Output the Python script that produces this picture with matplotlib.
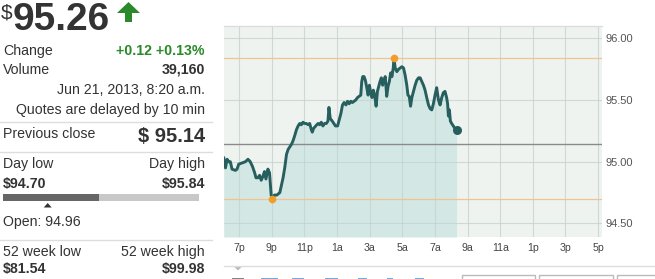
import matplotlib
matplotlib.use("Agg")
import matplotlib.pyplot as plt
from matplotlib.patches import Polygon, Rectangle
import numpy as np

plt.rcParams['font.family'] = ['Liberation Sans', 'DejaVu Sans']

# ---------------- data ----------------
last_price = 95.26
change_text = "+0.12 +0.13%"
volume_text = "39,160"
quote_time = "Jun 21, 2013, 8:20 a.m."
delay_note = "Quotes are delayed by 10 min"
prev_close = 95.14
day_low = 94.70
day_high = 95.84
open_price = 94.96
week52_low = 81.54
week52_high = 99.98

# hours since midnight Jun 20 (values > 24 are on Jun 21)
hours = [18.07, 18.17, 18.27, 18.37, 18.47, 18.57, 18.78, 18.88, 18.98, 19.18,
         19.39, 19.55, 19.69, 19.83, 19.96, 20.04, 20.16, 20.26, 20.36, 20.46,
         20.56, 20.65, 20.77, 20.87, 20.97, 21.05, 21.17, 21.32,
         21.50, 21.60, 21.70, 21.80, 21.91, 22.01, 22.11, 22.21, 22.31, 22.41,
         22.52, 22.62, 22.72, 22.82, 22.92, 23.02, 23.13, 23.23, 23.33, 23.43,
         23.49, 23.57, 23.70, 23.84, 23.94, 24.04, 24.14, 24.24, 24.35, 24.45,
         24.51, 24.59, 24.71, 24.81, 24.91,
         25.04, 25.14, 25.24, 25.34, 25.44, 25.55, 25.65, 25.75, 25.85, 25.95,
         26.05, 26.15, 26.26, 26.36, 26.46, 26.52, 26.58, 26.66, 26.74, 26.83,
         26.91, 26.99, 27.07, 27.15, 27.23, 27.31, 27.40, 27.48, 27.56, 27.64,
         27.72, 27.80, 27.88, 27.96, 28.05, 28.13, 28.21, 28.29, 28.37, 28.45,
         28.49,
         28.57, 28.67, 28.78, 28.88, 28.98, 29.08, 29.18, 29.28, 29.35, 29.43,
         29.51, 29.59, 29.69, 29.79, 29.89, 30.00, 30.10, 30.20, 30.30, 30.40,
         30.50, 30.61, 30.71, 30.81, 30.91, 31.01, 31.11, 31.22, 31.32, 31.42,
         31.52, 31.62, 31.72, 31.78, 31.83, 31.89, 31.95, 32.03, 32.13, 32.23,
         32.33]
prices = [95.03, 94.95, 95.02, 95.00, 95.00, 94.94, 94.93, 94.94, 94.98, 94.99,
          95.00, 95.02, 95.00, 94.96, 94.91, 94.87, 94.87, 94.89, 94.85, 94.88,
          94.92, 94.86, 94.94, 94.91, 94.73, 94.70, 94.73, 94.73,
          94.75, 94.81, 94.87, 94.95, 95.06, 95.10, 95.12, 95.14, 95.17, 95.21,
          95.26, 95.29, 95.31, 95.30, 95.32, 95.31, 95.31, 95.30, 95.31, 95.26,
          95.24, 95.27, 95.29, 95.31, 95.30, 95.32, 95.29, 95.31, 95.31, 95.33,
          95.44, 95.35, 95.33, 95.31, 95.29,
          95.29, 95.34, 95.39, 95.46, 95.48, 95.46, 95.49, 95.47, 95.49, 95.48,
          95.49, 95.50, 95.52, 95.53, 95.54, 95.65, 95.69, 95.69, 95.66, 95.60,
          95.54, 95.62, 95.56, 95.52, 95.58, 95.54, 95.45, 95.57, 95.61, 95.65,
          95.68, 95.62, 95.66, 95.69, 95.53, 95.61, 95.65, 95.72, 95.69, 95.76,
          95.84,
          95.76, 95.73, 95.75, 95.76, 95.77, 95.76, 95.70, 95.62, 95.54, 95.53,
          95.45, 95.52, 95.57, 95.62, 95.66, 95.68, 95.68, 95.65, 95.62, 95.58,
          95.52, 95.46, 95.43, 95.42, 95.47, 95.54, 95.60, 95.50, 95.46, 95.52,
          95.56, 95.57, 95.52, 95.47, 95.37, 95.42, 95.33, 95.31, 95.29, 95.27,
          95.26]

x_ticks = [19, 21, 23, 25, 27, 29, 31, 33, 35, 37, 39, 41]
x_labels = ["7p", "9p", "11p", "1a", "3a", "5a", "7a", "9a", "11a", "1p", "3p", "5p"]
y_ticks = [94.5, 95.0, 95.5, 96.0]
y_labels = ["94.50", "95.00", "95.50", "96.00"]

# ---------------- figure ----------------
W, H = 655, 279
fig = plt.figure(figsize=(W / 100, H / 100), dpi=100)
fig.patch.set_facecolor("white")

# overlay in pixel coordinates
ov = fig.add_axes([0, 0, 1, 1])
ov.set_xlim(0, W)
ov.set_ylim(H, 0)
ov.axis("off")

dark = "#333333"
green = "#2a8a2a"

ov.text(0.5, 19, "$", fontsize=15, color=dark, va="baseline", ha="left")
ov.text(13, 29.5, f"{last_price:.2f}", fontsize=28, fontweight="bold", color=dark,
        va="baseline", ha="left")
ov.add_patch(Polygon([[117, 13], [140, 13], [128.5, 2]], closed=True, color=green, lw=0))
ov.add_patch(Rectangle((125, 12), 7, 10, color=green, lw=0))

fs = 10.2
ov.text(3, 51, "Change", fontsize=fs, color=dark, va="center")
ov.text(205, 51, change_text, fontsize=fs, color=green, fontweight="bold",
        va="center", ha="right")
ov.text(3, 70, "Volume", fontsize=fs, color=dark, va="center")
ov.text(205, 70, volume_text, fontsize=fs, color=dark, fontweight="bold",
        va="center", ha="right")
ov.text(205, 90, quote_time, fontsize=fs, color=dark, va="center", ha="right")
ov.text(205, 110, delay_note, fontsize=fs, color=dark, va="center", ha="right")
ov.plot([0, 212], [122, 122], color="#dddddd", lw=1)
ov.text(3, 134, "Previous close", fontsize=fs, color=dark, va="center")
ov.text(205, 136.5, f"$ {prev_close:.2f}", fontsize=14.5, color=dark, fontweight="bold",
        va="center", ha="right")
ov.plot([0, 212], [151.5, 151.5], color="#dddddd", lw=1)
ov.text(3, 164, "Day low", fontsize=fs, color=dark, va="center")
ov.text(205, 164, "Day high", fontsize=fs, color=dark, va="center", ha="right")
ov.text(3, 184, f"${day_low:.2f}", fontsize=fs, color=dark, fontweight="bold", va="center")
ov.text(205, 184, f"${day_high:.2f}", fontsize=fs, color=dark, fontweight="bold",
        va="center", ha="right")
bar_l, bar_r = 3, 199
frac_cur = (last_price - day_low) / (day_high - day_low)
frac_open = (open_price - day_low) / (day_high - day_low)
ov.add_patch(Rectangle((bar_l, 194), bar_r - bar_l, 7, color="#c8c8c8", lw=0))
ov.add_patch(Rectangle((bar_l, 194), (bar_r - bar_l) * frac_cur, 7, color="#666666", lw=0))
ox = bar_l + (bar_r - bar_l) * frac_open
ov.add_patch(Polygon([[ox - 4, 207.5], [ox + 4, 207.5], [ox, 203]], closed=True,
                     color="#333333", lw=0))
ov.text(3, 222, f"Open: {open_price:.2f}", fontsize=fs, color=dark, va="center")
ov.plot([0, 212], [239.5, 239.5], color="#dddddd", lw=1)
ov.text(3, 252, "52 week low", fontsize=fs, color=dark, va="center")
ov.text(205, 252, "52 week high", fontsize=fs, color=dark, va="center", ha="right")
ov.text(3, 269, f"${week52_low:.2f}", fontsize=fs, color=dark, fontweight="bold", va="center")
ov.text(205, 269, f"${week52_high:.2f}", fontsize=fs, color=dark, fontweight="bold",
        va="center", ha="right")

# bottom controls (only their top edges are visible in the frame)
ov.plot([224, W], [265.5, 265.5], color="#dddddd", lw=1)
ov.add_patch(Polygon([[234, 266.5], [242, 266.5], [238, 270.5]], closed=True,
                     color="#bbbbbb", lw=0))
btn_spans = [(232, 244), (261, 278), (292, 304), (325, 338), (358, 367), (387, 393), (415, 424)]
for i, (b0, b1) in enumerate(btn_spans):
    ov.add_patch(Rectangle((b0, 277.5), b1 - b0, 2, color=dark if i == 0 else "#2a6ebb",
                           lw=0, alpha=0.6))
for (bx0, bx1) in [(462, 535), (539, 613), (617, 660)]:
    ov.add_patch(Rectangle((bx0, 274.5), bx1 - bx0, 10, fill=False,
                           edgecolor="#bbbbbb", lw=1))

# ---------------- chart ----------------
L, R, T, B = 224, 602, 26, 237
ax = fig.add_axes([L / W, 1 - B / H, (R - L) / W, (B - T) / H])
ax.set_facecolor("#eef3f0")
ax.set_xlim(18.08, 41.24)
ax.set_ylim(94.39, 96.10)

x = np.array(hours)
y = np.array(prices)
ax.fill_between(x, y, 94.39, color="#d3e8e4", lw=0, zorder=1)

for t in x_ticks:
    ax.axvline(t, color="#c4d3ce", lw=0.8, alpha=0.8, zorder=2)
for v in y_ticks:
    ax.axhline(v, color="#c4d3ce", lw=0.8, alpha=0.8, zorder=2)

ax.axhline(day_high, color="#efc48e", lw=0.9, zorder=3)
ax.axhline(day_low, color="#efc48e", lw=0.9, zorder=3)
ax.axhline(prev_close, color="#8a8a8a", lw=1.0, zorder=3)

ax.plot(x, y, color="#275e5e", lw=2.1, zorder=4, solid_joinstyle="round")
i_hi, i_lo = int(np.argmax(y)), int(np.argmin(y))
ax.plot([x[i_hi], x[i_lo]], [y[i_hi], y[i_lo]], "o", color="#f39c2c", ms=5.5,
        mec="none", zorder=5)
ax.plot([x[-1]], [y[-1]], "o", color="#275e5e", ms=6.5, mec="none", zorder=5)

ax.set_xticks(x_ticks)
ax.set_xticklabels(x_labels)
ax.set_yticks(y_ticks)
ax.set_yticklabels(y_labels)
ax.yaxis.tick_right()
ax.tick_params(axis="x", length=0, pad=4, labelsize=7.6, labelcolor="#444444")
ax.tick_params(axis="y", length=0, pad=2.5, labelsize=8, labelcolor="#555555")
for s in ["left", "bottom", "right"]:
    ax.spines[s].set_visible(False)
ax.spines["top"].set_color("#dcdcdc")
ax.spines["top"].set_linewidth(1)

fig.savefig("out.png", dpi=100, facecolor="white")
